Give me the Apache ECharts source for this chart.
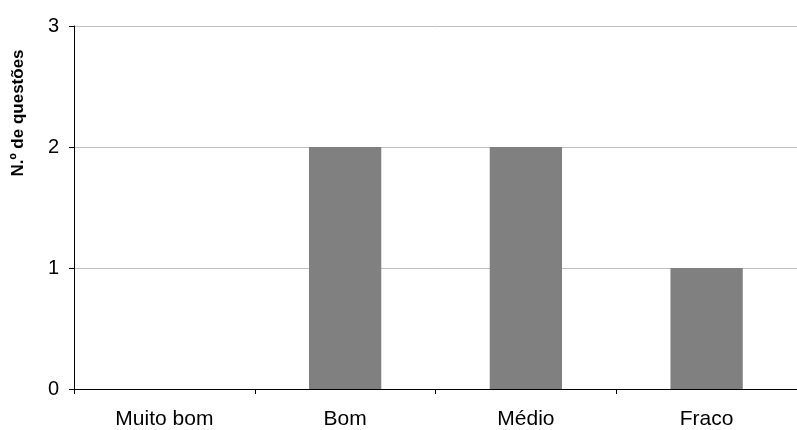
<!DOCTYPE html>
<html>
<head>
<meta charset="utf-8">
<script src="https://cdn.jsdelivr.net/npm/echarts@6/dist/echarts.min.js"></script>
<style>html,body{margin:0;padding:0;background:#fff}#c{width:797px;height:430px}</style>
</head>
<body>
<div id="c"></div>
<script>
var categories = ['Muito bom', 'Bom', 'Médio', 'Fraco'];
var values = [0, 2, 2, 1];
var yTicks = [0, 1, 2, 3];
var yTitle = 'N.º de questões';

var FONT = '"Liberation Sans", Arial, sans-serif';
var chart = echarts.init(document.getElementById('c'), null, {renderer: 'canvas'});
chart.setOption({
  animation: false,
  grid: {left: 74, top: 26, width: 729, height: 366, containLabel: false},
  graphic: [{
    type: 'text',
    x: 18, y: 113,
    rotation: Math.PI / 2,
    style: {
      text: yTitle,
      fill: '#000',
      font: 'bold 17px ' + FONT,
      align: 'center',
      verticalAlign: 'middle'
    }
  }],
  xAxis: {
    type: 'category',
    data: categories,
    axisLine: {lineStyle: {color: '#000', width: 1}},
    axisTick: {show: true, alignWithLabel: false, length: 5, lineStyle: {color: '#000'}},
    axisLabel: {color: '#000', fontFamily: FONT, fontSize: 21, margin: 20},
    splitLine: {show: false}
  },
  yAxis: {
    type: 'value',
    min: yTicks[0], max: yTicks[yTicks.length - 1], interval: 1,
    axisLine: {show: true, lineStyle: {color: '#000', width: 1}},
    axisTick: {show: true, length: 5, lineStyle: {color: '#000'}},
    axisLabel: {color: '#000', fontFamily: FONT, fontSize: 20, margin: 15},
    splitLine: {show: true, lineStyle: {color: '#c0c0c0', width: 1}}
  },
  series: [{
    type: 'bar',
    data: values,
    barWidth: '40%',
    itemStyle: {color: '#808080'}
  }]
});
</script>
</body>
</html>
